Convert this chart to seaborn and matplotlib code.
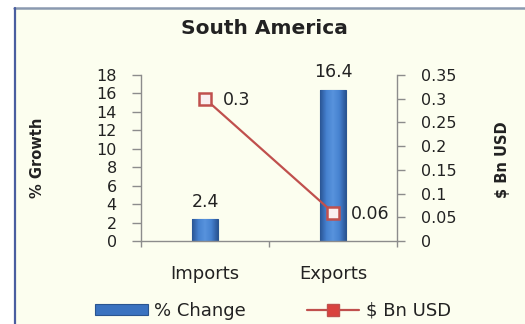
import numpy as np
import pandas as pd
import matplotlib
matplotlib.use("Agg")
import matplotlib.pyplot as plt
import seaborn as sns
from matplotlib.patches import Patch, Rectangle
from matplotlib.lines import Line2D
from matplotlib.colors import LinearSegmentedColormap

# ---- data ----
categories = ["Imports", "Exports"]
pct_change = [2.4, 16.4]          # % Growth (left axis, bars)
bn_usd = [0.3, 0.06]              # $ Bn USD (right axis, line)
left_ticks = [0, 2, 4, 6, 8, 10, 12, 14, 16, 18]
right_ticks = [0, 0.05, 0.1, 0.15, 0.2, 0.25, 0.3, 0.35]
right_tick_labels = ["0", "0.05", "0.1", "0.15", "0.2", "0.25", "0.3", "0.35"]
series_names = ["% Change", "$ Bn USD"]

# ---- styling ----
bar_color = "#3A72C0"
bar_edge = "#2A5590"
line_color = "#C0504D"
axis_gray = "#8C8C8C"
text_color = "#222222"
panel_bg = "#FCFEEF"

sns.set_theme(style="white")
plt.rcParams["font.family"] = ["DejaVu Sans"]
plt.rcParams["text.color"] = text_color

W, H = 525, 324
fig = plt.figure(figsize=(W / 100, H / 100), dpi=100)
fig.patch.set_facecolor("white")

# chart panel with its border (kept behind the axes)
fig.patches.append(Rectangle((15 / W, 0), 1 - 15 / W, 1 - 8 / H,
                             transform=fig.transFigure, facecolor=panel_bg,
                             edgecolor="none", zorder=-5))
fig.lines.append(Line2D([14 / W, 1], [1 - 8 / H, 1 - 8 / H], transform=fig.transFigure,
                        color="#8A99B0", lw=1.8, zorder=1))
fig.lines.append(Line2D([15 / W, 15 / W], [0, 1 - 8 / H], transform=fig.transFigure,
                        color="#4A5EA0", lw=1.6, zorder=1))

ax = fig.add_axes([141 / W, 1 - 241 / H, (397 - 141) / W, (241 - 75) / H])
ax.set_facecolor("none")

df = pd.DataFrame({"category": categories, "pct": pct_change, "usd": bn_usd})

sns.barplot(data=df, x="category", y="pct", ax=ax, width=0.2, color=bar_color,
            saturation=1, edgecolor=bar_edge, linewidth=0.8)

# cylindrical shading on each bar
shade = LinearSegmentedColormap.from_list(
    "shade", ["#2A5595", "#4682D0", "#5893DD", "#4682D0", "#2A5595"])
grad = np.linspace(0, 1, 64).reshape(1, -1)
for p in list(ax.patches):
    x0, y0, w, h = p.get_x(), p.get_y(), p.get_width(), p.get_height()
    im = ax.imshow(grad, extent=[x0, x0 + w, y0, y0 + h], aspect="auto",
                   cmap=shade, origin="lower", zorder=p.get_zorder() + 0.1)
    im.set_clip_path(p)

ax.set_xlim(-0.5, 1.5)
ax.set_ylim(0, 18)
ax.set_yticks(left_ticks)
ax.set_xlabel("")
ax.set_ylabel("")

ax.bar_label(ax.containers[0], labels=[f"{v:g}" for v in pct_change],
             padding=6, fontsize=12.5, color=text_color)

# line series on the secondary axis
ax2 = ax.twinx()
sns.pointplot(data=df, x="category", y="usd", ax=ax2, color=line_color,
              markers="s", linestyles="-", markersize=8, linewidth=1.6,
              errorbar=None)
for ln in ax2.lines:
    ln.set_markerfacecolor("#FAF0F0")
    ln.set_markeredgecolor(line_color)
    ln.set_markeredgewidth(1.8)
    ln.set_zorder(5)
ax2.set_ylim(0, 0.35)
ax2.set_yticks(right_ticks, labels=right_tick_labels)
ax2.set_xlim(-0.5, 1.5)
ax2.set_ylabel("")
ax2.set_xlabel("")

for i, v in enumerate(bn_usd):
    ax2.annotate(f"{v:g}", xy=(i, v), xytext=(13, -1), textcoords="offset points",
                 ha="left", va="center", fontsize=12.5, color=text_color)

# axes, ticks and spines
for s in ["top", "right"]:
    ax.spines[s].set_visible(False)
for s in ["top", "left", "bottom"]:
    ax2.spines[s].set_visible(False)
for sp in [ax.spines["left"], ax.spines["bottom"], ax2.spines["right"]]:
    sp.set_visible(True)
    sp.set_color(axis_gray)
    sp.set_linewidth(1)

ax.tick_params(axis="y", left=True, direction="out", length=6.5, width=1,
               color=axis_gray, pad=11, labelsize=11.5, labelcolor=text_color)
ax2.tick_params(axis="y", right=True, direction="out", length=5.5, width=1,
                color=axis_gray, pad=12, labelsize=11.5, labelcolor=text_color)

ax.set_xticks([0, 1], labels=categories)
ax.tick_params(axis="x", which="major", bottom=True, length=0, pad=17,
               labelsize=13, labelcolor=text_color)
ax.set_xticks([-0.5, 0.5, 1.5], minor=True)
ax.tick_params(axis="x", which="minor", bottom=True, direction="out",
               length=4, width=1, color=axis_gray)

# titles
fig.text(264 / W, 1 - 28 / H, "South America", ha="center", va="center",
         fontsize=14.5, fontweight="bold", color=text_color)
fig.text(38 / W, 1 - 158 / H, "% Growth", rotation=90, ha="center", va="center",
         fontsize=10.5, fontweight="bold", color=text_color)
fig.text(502 / W, 1 - 160 / H, "$ Bn USD", rotation=90, ha="center", va="center",
         fontsize=10.5, fontweight="bold", color=text_color)

# legend
handles = [
    Patch(facecolor=bar_color, edgecolor=bar_edge, linewidth=0.8),
    Line2D([], [], color=line_color, lw=1.6, marker="s", markersize=9,
           markerfacecolor="#D9423E", markeredgecolor=line_color),
]
fig.legend(handles, series_names, loc="center", bbox_to_anchor=(273 / W, 1 - 311 / H),
           ncol=2, frameon=False, fontsize=13, handlelength=2.9, handleheight=0.6,
           handletextpad=0.35, columnspacing=3.4, labelcolor=text_color)

fig.savefig("out.png", dpi=100, facecolor=fig.get_facecolor())
